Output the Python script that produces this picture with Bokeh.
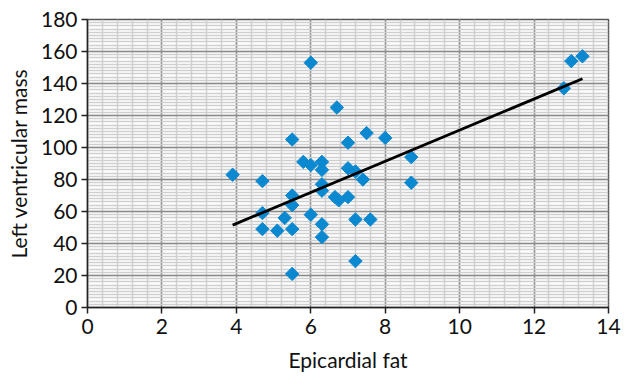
import math
from bokeh.plotting import figure
from bokeh.models import ColumnDataSource, SingleIntervalTicker, Range1d
from bokeh.embed import file_html
from bokeh.resources import INLINE

# Data
epicardial_fat = [3.9, 4.7, 4.7, 4.7, 5.1, 5.3, 5.5, 5.5, 5.5, 5.5, 5.5, 5.8, 6.0, 6.0, 6.0,
                  6.3, 6.3, 6.3, 6.3, 6.3, 6.3, 6.7, 6.65, 6.75, 7.0, 7.0, 7.0, 7.2, 7.4,
                  7.2, 7.2, 7.6, 7.5, 8.0, 8.7, 8.7, 12.8, 13.0, 13.3]
lv_mass = [83, 79, 59, 49, 48, 56, 49, 21, 70, 64, 105, 91, 89, 58, 153,
           91, 86, 77, 73, 52, 44, 125, 69, 67, 87, 69, 103, 85, 80,
           55, 29, 55, 109, 106, 94, 78, 137, 154, 157]
trend_x = [3.9, 13.3]
trend_y = [51.5, 143.0]

x_ticks = [0, 2, 4, 6, 8, 10, 12, 14]
y_ticks = [0, 20, 40, 60, 80, 100, 120, 140, 160, 180]

FONT = "Lato"

p = figure(width=625, height=379, output_backend="svg", toolbar_location=None,
           x_range=Range1d(0, 14), y_range=Range1d(0, 180),
           min_border_left=87, min_border_right=17, min_border_top=19, min_border_bottom=72)

p.xaxis.ticker = SingleIntervalTicker(interval=2, num_minor_ticks=5)
p.yaxis.ticker = SingleIntervalTicker(interval=20, num_minor_ticks=10)

for g in (p.xgrid, p.ygrid):
    g.grid_line_color = "#8a8a8a"
    g.grid_line_width = 1.5
    g.minor_grid_line_color = "#cfcfcf"
    g.minor_grid_line_width = 1.5

p.outline_line_color = "#555555"
p.outline_line_width = 1.5

for ax in (p.xaxis, p.yaxis):
    ax.axis_line_color = "#222222"
    ax.axis_line_width = 1.5
    ax.major_tick_line_color = "#222222"
    ax.major_tick_line_width = 1.5
    ax.major_tick_out = 6
    ax.major_tick_in = 0
    ax.minor_tick_line_color = None
    ax.major_label_text_font = FONT
    ax.major_label_text_font_size = "21px"
    ax.major_label_text_color = "#111111"
    ax.axis_label_text_font = FONT
    ax.axis_label_text_font_size = "21px"
    ax.axis_label_text_font_style = "normal"
    ax.axis_label_text_color = "#111111"

p.xaxis.axis_label = "Epicardial fat"
p.yaxis.axis_label = "Left ventricular mass"
p.xaxis.major_label_standoff = 5
p.yaxis.major_label_standoff = 4
p.xaxis.axis_label_standoff = 10
p.yaxis.axis_label_standoff = 7

src = ColumnDataSource(dict(x=epicardial_fat, y=lv_mass))
p.scatter("x", "y", source=src, marker="square", angle=math.pi / 4, size=9.5,
          fill_color="#0a88d0", line_color="#0a88d0")

p.line(trend_x, trend_y, line_color="black", line_width=2.8)

open("out.html", "w").write(file_html(p, INLINE))
